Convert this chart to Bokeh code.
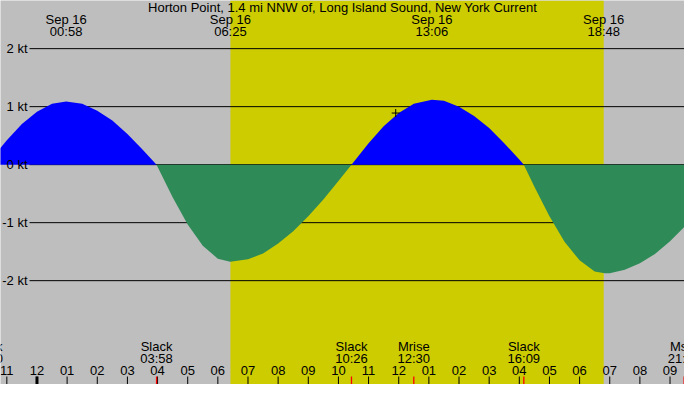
from bokeh.plotting import figure
from bokeh.models import Range1d
from bokeh.core.properties import value
from bokeh.embed import file_html
from bokeh.resources import INLINE

title = "Horton Point, 1.4 mi NNW of, Long Island Sound, New York Current"

# current in knots (flood +, ebb -), x = hours after midnight Sep 16
hours = [-1.667, -1.5, -1.0, -0.5, 0.0, 0.5, 0.967, 1.5, 2.0, 2.5, 3.0, 3.5,
         3.967, 4.5, 5.0, 5.5, 6.0, 6.41, 7.0, 7.5, 8.0, 8.5, 9.0, 9.5, 10.0,
         10.433, 11.0, 11.5, 12.0, 12.5, 13.1, 13.5, 14.0, 14.5, 15.0, 15.5, 16.0,
         16.15, 16.5, 17.0, 17.5, 18.0, 18.5, 18.83, 19.0, 19.5, 20.0, 20.5, 21.0, 21.5]
knots = [0.0, 0.11, 0.42, 0.70, 0.91, 1.05, 1.09, 1.05, 0.93, 0.76, 0.53, 0.26,
         0.0, -0.56, -1.03, -1.40, -1.62, -1.675, -1.63, -1.53, -1.36, -1.15, -0.89, -0.60, -0.28,
         0.0, 0.37, 0.66, 0.89, 1.05, 1.12, 1.10, 1.00, 0.84, 0.63, 0.37, 0.09,
         0.0, -0.38, -0.89, -1.33, -1.65, -1.84, -1.87, -1.87, -1.81, -1.70, -1.54, -1.32, -1.06]

# labels along the top (max flood, sunrise, sunset)
top_hours = [0.967, 6.417, 13.1, 18.8]
top_dates = ["Sep 16", "Sep 16", "Sep 16", "Sep 16"]
top_times = ["00:58", "06:25", "13:06", "18:48"]

sunrise = 6.417
sunset = 18.8

# slack / moon events along the bottom
event_hours = [-1.667, 3.967, 10.433, 12.5, 16.15, 21.467]
event_names = ["Slack", "Slack", "Slack", "Mrise", "Slack", "Mset"]
event_times = ["22:20", "03:58", "10:26", "12:30", "16:09", "21:28"]

hour_ticks = list(range(-1, 22))
hour_labels = ["11", "12", "01", "02", "03", "04", "05", "06", "07", "08", "09", "10",
               "11", "12", "01", "02", "03", "04", "05", "06", "07", "08", "09"]

levels = [2, 1, 0, -1, -2]
level_labels = ["2 kt", "1 kt", "0 kt", "-1 kt", "-2 kt"]

now_hour = [11.9]
now_knots = [0.89]

W, H = 684, 384
x0, x1 = -1.21, 21.48
y0, y1 = -3.79, 2.83
hx = (x1 - x0) / W   # hours per pixel
ky = (y1 - y0) / H   # knots per pixel

font = value("Liberation Sans")
fsize = "13px"

p = figure(width=W, height=H, x_range=Range1d(x0, x1), y_range=Range1d(y0, y1),
           x_axis_type=None, y_axis_type=None, output_backend="svg",
           toolbar_location=None, min_border=0, outline_line_color=None,
           background_fill_color="#bebebe", border_fill_color="#bebebe")
p.grid.visible = False

# daylight
p.quad(left=[sunrise], right=[sunset], bottom=[y0], top=[y1],
       fill_color="#cccc00", line_color=None)

# kt lines
n = len(levels)
p.segment(x0=[x0 + 29 * hx] * n, y0=levels, x1=[x1] * n, y1=levels,
          line_color="black", line_width=1)

# flood / ebb areas
flood = [max(k, 0) for k in knots]
ebb = [min(k, 0) for k in knots]
p.varea(x=hours, y1=[0] * len(hours), y2=flood, fill_color="#0000ff")
p.varea(x=hours, y1=[0] * len(hours), y2=ebb, fill_color="#2e8b57")

p.scatter(x=now_hour, y=now_knots, marker="cross", size=8,
          line_color="black", line_width=1)

p.text(x=[x0] * n, y=levels, text=level_labels, x_offset=27,
       text_align="right", text_baseline="middle",
       text_font=font, text_font_size=fsize, text_color="black")

# top texts
p.text(x=[(x0 + x1) / 2], y=[y1], text=[title], y_offset=7,
       text_align="center", text_baseline="alphabetic",
       text_font=font, text_font_size=fsize, text_color="black")
p.text(x=top_hours, y=[y1] * len(top_hours), text=top_dates, y_offset=19,
       text_align="center", text_baseline="alphabetic",
       text_font=font, text_font_size=fsize, text_color="black")
p.text(x=top_hours, y=[y1] * len(top_hours), text=top_times, y_offset=31,
       text_align="center", text_baseline="alphabetic",
       text_font=font, text_font_size=fsize, text_color="black")

# bottom texts
p.text(x=event_hours, y=[y0] * len(event_hours), text=event_names, y_offset=-38,
       text_align="center", text_baseline="alphabetic",
       text_font=font, text_font_size=fsize, text_color="black")
p.text(x=event_hours, y=[y0] * len(event_hours), text=event_times, y_offset=-26,
       text_align="center", text_baseline="alphabetic",
       text_font=font, text_font_size=fsize, text_color="black")
p.text(x=hour_ticks, y=[y0] * len(hour_ticks), text=hour_labels, y_offset=-14,
       text_align="center", text_baseline="alphabetic",
       text_font=font, text_font_size=fsize, text_color="black")

# hour ticks
m = len(hour_ticks)
p.segment(x0=hour_ticks, y0=[y0] * m, x1=hour_ticks, y1=[y0 + 8 * ky] * m,
          line_color="black", line_width=1)
p.segment(x0=[0], y0=[y0], x1=[0], y1=[y0 + 8 * ky], line_color="black", line_width=3)
e = len(event_hours)
p.segment(x0=event_hours, y0=[y0] * e, x1=event_hours, y1=[y0 + 8 * ky] * e,
          line_color="red", line_width=1.3)

open("out.html", "w").write(file_html(p, INLINE))
